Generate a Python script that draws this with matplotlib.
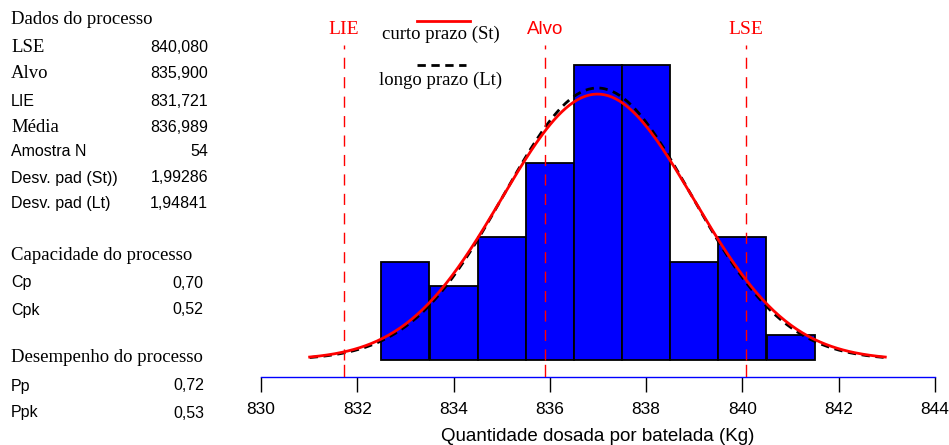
import numpy as np
import matplotlib
matplotlib.use('Agg')
import matplotlib.pyplot as plt

# histogram data
bin_edges = [832.5, 833.5, 834.5, 835.5, 836.5, 837.5, 838.5, 839.5, 840.5, 841.5]
counts = [4, 3, 5, 8, 12, 12, 4, 5, 1]

lse, alvo, lie = 840.080, 835.900, 831.721
media = 836.989
n_amostra = 54
sd_st = 1.99286
sd_lt = 1.94841

xticks = [830, 832, 834, 836, 838, 840, 842, 844]

stats_labels = ['LSE', 'Alvo', 'LIE', 'Média', 'Amostra N', 'Desv. pad (St))', 'Desv. pad (Lt)']
stats_values = ['840,080', '835,900', '831,721', '836,989', '54', '1,99286', '1,94841']
cap_labels = ['Cp', 'Cpk']
cap_values = ['0,70', '0,52']
des_labels = ['Pp', 'Ppk']
des_values = ['0,72', '0,53']

W, H = 949, 445
fig = plt.figure(figsize=(W / 100, H / 100), dpi=100)

SERIF = 'Liberation Serif'
SANS = 'Liberation Sans'


def fx(px):
    return px / W


def fy(py):
    return 1 - py / H


# ---- left text panel ----
serif_rows = {'LSE', 'Alvo', 'Média'}
fig.text(fx(11), fy(20), 'Dados do processo', family=SERIF, fontsize=13.5, va='center')
ys = [48, 74, 101, 127, 152, 178, 204]
for lab, val, y in zip(stats_labels, stats_values, ys):
    fam = SERIF if lab in serif_rows else SANS
    fs = 13.5 if lab in serif_rows else 11.5
    fig.text(fx(11), fy(y), lab, family=fam, fontsize=fs, va='center')
    fig.text(fx(208), fy(y), val, family=SANS, fontsize=11.5, va='center', ha='right')

fig.text(fx(11), fy(256), 'Capacidade do processo', family=SERIF, fontsize=13.5, va='center')
for lab, val, y in zip(cap_labels, cap_values, [283, 310]):
    fig.text(fx(11), fy(y), lab, family=SANS, fontsize=11.5, va='center')
    fig.text(fx(203), fy(y), val, family=SANS, fontsize=11.5, va='center', ha='right')

fig.text(fx(11), fy(358), 'Desempenho do processo', family=SERIF, fontsize=13.5, va='center')
for lab, val, y in zip(des_labels, des_values, [386, 413]):
    fig.text(fx(11), fy(y), lab, family=SANS, fontsize=11.5, va='center')
    fig.text(fx(204), fy(y), val, family=SANS, fontsize=11.5, va='center', ha='right')

# ---- main chart ----
ax_left, ax_right = 261, 935
ax_top, ax_bot = 20, 377
ax = fig.add_axes([fx(ax_left), fy(ax_bot), (ax_right - ax_left) / W, (ax_bot - ax_top) / H])
ax.set_xlim(830, 844)
px_per_count = 24.6
ax.set_ylim(-(ax_bot - 360) / px_per_count, (360 - ax_top) / px_per_count)
ylo = -(ax_bot - 360) / px_per_count

ax.bar(bin_edges[:-1], counts, width=np.diff(bin_edges), align='edge',
       color='#0000ff', edgecolor='black', linewidth=1.3, zorder=2)

# fitted normal curves
for sd, style, col in [(sd_lt, (0, (3, 2)), 'black'), (sd_st, '-', 'red')]:
    xs = np.linspace(media - 3 * sd_st, media + 3 * sd_st, 300)
    ys_c = n_amostra / (sd * np.sqrt(2 * np.pi)) * np.exp(-0.5 * ((xs - media) / sd) ** 2)
    ax.plot(xs, ys_c, color=col, linestyle=style, linewidth=2, zorder=3)

# spec lines
ytop_line = (360 - 45) / px_per_count
for v, lab, fam in [(lie, 'LIE', SERIF), (alvo, 'Alvo', SANS), (lse, 'LSE', SERIF)]:
    ax.plot([v, v], [0, ytop_line], color='red', linewidth=1,
            linestyle=(0, (8, 6)), zorder=4)
    ax.plot([v, v], [ylo, -5 / px_per_count], color='red', linewidth=1, zorder=4)
    ax.text(v, (360 - 30) / px_per_count, lab, color='red', family=fam,
            fontsize=14 if fam == SERIF else 13.5, ha='center', va='center')

# legend drawn manually
fig.add_artist(plt.Line2D([fx(417), fx(470)], [fy(21), fy(21)], color='red', linewidth=2))
fig.text(fx(441), fy(34), 'curto prazo (St)', family=SERIF, fontsize=13.5, ha='center', va='center')
fig.add_artist(plt.Line2D([fx(417), fx(466)], [fy(65), fy(65)], color='black', linewidth=2,
                          linestyle=(0, (3, 2))))
fig.text(fx(441), fy(80), 'longo prazo (Lt)', family=SERIF, fontsize=13.5, ha='center', va='center')

for s in ['top', 'right', 'left']:
    ax.spines[s].set_visible(False)
ax.spines['bottom'].set_color('blue')
ax.spines['bottom'].set_linewidth(1)
ax.set_yticks([])
ax.set_xticks(xticks)
ax.set_xticklabels([str(t) for t in xticks], family=SANS, fontsize=12.5)
ax.tick_params(axis='x', direction='out', length=11, width=1, color='black', pad=7)
ax.set_xlabel('Quantidade dosada por batelada (Kg)', family=SANS, fontsize=13.5, labelpad=8)
ax.patch.set_alpha(0)

fig.savefig('out.png', dpi=100)
